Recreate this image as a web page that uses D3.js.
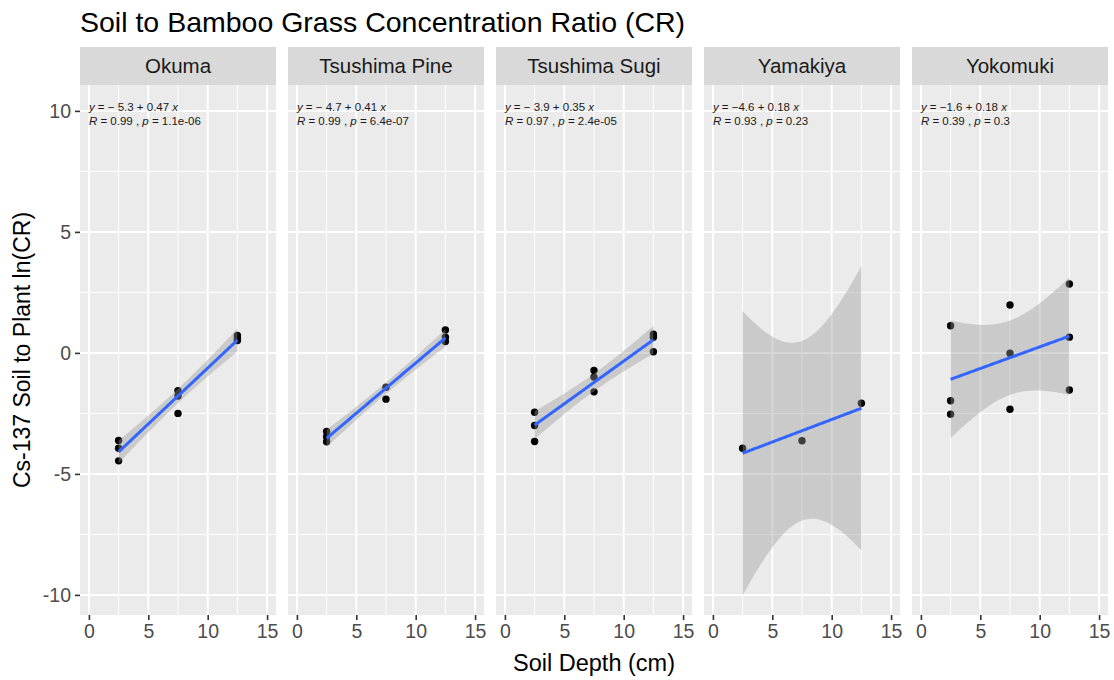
<!DOCTYPE html>
<html>
<head>
<meta charset="utf-8">
<script src="https://cdn.jsdelivr.net/npm/d3@7"></script>
<style>
  body { margin: 0; background: #fff; }
  svg { display: block; font-family: "Liberation Sans", Arial, sans-serif; }
</style>
</head>
<body>
<svg id="chart" width="1114" height="680"></svg>
<script>
// Sites (facets)
const sites = ["Okuma", "Tsushima Pine", "Tsushima Sugi", "Yamakiya", "Yokomuki"];

// Soil depth (cm) and ln(CR) per site
const okumaDepth = [2.5, 2.5, 2.5, 7.5, 7.5, 7.5, 12.5, 12.5, 12.5];
const okumaCR    = [-3.62, -3.94, -4.46, -1.56, -1.78, -2.5, 0.72, 0.61, 0.51];

const pineDepth  = [2.5, 2.5, 2.5, 7.5, 7.5, 12.5, 12.5, 12.5];
const pineCR     = [-3.25, -3.46, -3.67, -1.42, -1.91, 0.95, 0.65, 0.47];

const sugiDepth  = [2.5, 2.5, 2.5, 7.5, 7.5, 7.5, 12.5, 12.5, 12.5];
const sugiCR     = [-2.45, -3.0, -3.66, -0.73, -1.0, -1.61, 0.77, 0.65, 0.05];

const yamakiyaDepth = [2.5, 7.5, 12.5];
const yamakiyaCR    = [-3.94, -3.63, -2.08];

const yokomukiDepth = [2.5, 2.5, 2.5, 7.5, 7.5, 7.5, 12.5, 12.5, 12.5];
const yokomukiCR    = [1.12, -1.98, -2.53, 1.98, -0.01, -2.33, 2.85, 0.65, -1.53];

// Regression / correlation annotations
const eqIntercept = ["\u2212 5.3", "\u2212 4.7", "\u2212 3.9", "\u22124.6", "\u22121.6"];
const eqSlope     = ["0.47", "0.41", "0.35", "0.18", "0.18"];
const corR        = ["0.99", "0.99", "0.97", "0.93", "0.39"];
const corP        = ["1.1e-06", "6.4e-07", "2.4e-05", "0.23", "0.3"];

// Axis ticks
const xTicks = [0, 5, 10, 15];
const xMinor = [2.5, 7.5, 12.5];
const yTicks = [-10, -5, 0, 5, 10];
const yMinor = [-7.5, -2.5, 2.5, 7.5];

const seriesDepth = [okumaDepth, pineDepth, sugiDepth, yamakiyaDepth, yokomukiDepth];
const seriesCR    = [okumaCR, pineCR, sugiCR, yamakiyaCR, yokomukiCR];

// ---- statistics helpers (linear fit with 95% confidence band) ----
function lnGamma(z) {
  const g = 7, c = [0.99999999999980993, 676.5203681218851, -1259.1392167224028,
    771.32342877765313, -176.61502916214059, 12.507343278686905,
    -0.13857109526572012, 9.9843695780195716e-6, 1.5056327351493116e-7];
  if (z < 0.5) return Math.log(Math.PI / Math.sin(Math.PI * z)) - lnGamma(1 - z);
  z -= 1;
  let x = c[0];
  for (let i = 1; i < g + 2; i++) x += c[i] / (z + i);
  const t = z + g + 0.5;
  return 0.5 * Math.log(2 * Math.PI) + (z + 0.5) * Math.log(t) - t + Math.log(x);
}
function betacf(a, b, x) {
  const MAXIT = 200, EPS = 3e-14, FPMIN = 1e-300;
  let qab = a + b, qap = a + 1, qam = a - 1, c = 1, d = 1 - qab * x / qap;
  if (Math.abs(d) < FPMIN) d = FPMIN;
  d = 1 / d; let h = d;
  for (let m = 1; m <= MAXIT; m++) {
    const m2 = 2 * m;
    let aa = m * (b - m) * x / ((qam + m2) * (a + m2));
    d = 1 + aa * d; if (Math.abs(d) < FPMIN) d = FPMIN;
    c = 1 + aa / c; if (Math.abs(c) < FPMIN) c = FPMIN;
    d = 1 / d; h *= d * c;
    aa = -(a + m) * (qab + m) * x / ((a + m2) * (qap + m2));
    d = 1 + aa * d; if (Math.abs(d) < FPMIN) d = FPMIN;
    c = 1 + aa / c; if (Math.abs(c) < FPMIN) c = FPMIN;
    d = 1 / d; const del = d * c; h *= del;
    if (Math.abs(del - 1) < EPS) break;
  }
  return h;
}
function ibeta(x, a, b) {
  if (x <= 0) return 0; if (x >= 1) return 1;
  const bt = Math.exp(lnGamma(a + b) - lnGamma(a) - lnGamma(b) + a * Math.log(x) + b * Math.log(1 - x));
  if (x < (a + 1) / (a + b + 2)) return bt * betacf(a, b, x) / a;
  return 1 - bt * betacf(b, a, 1 - x) / b;
}
function tCDF(t, df) {
  const p = 0.5 * ibeta(df / (df + t * t), df / 2, 0.5);
  return t > 0 ? 1 - p : p;
}
function tQuantile(q, df) {
  let lo = 0, hi = 1000;
  for (let i = 0; i < 200; i++) {
    const mid = (lo + hi) / 2;
    if (tCDF(mid, df) < q) lo = mid; else hi = mid;
  }
  return (lo + hi) / 2;
}
function linearFit(xs, ys) {
  const n = xs.length, mx = d3.mean(xs), my = d3.mean(ys);
  let sxx = 0, sxy = 0;
  xs.forEach((x, i) => { sxx += (x - mx) ** 2; sxy += (x - mx) * (ys[i] - my); });
  const b = sxy / sxx, a = my - b * mx;
  let sse = 0;
  xs.forEach((x, i) => { sse += (ys[i] - a - b * x) ** 2; });
  const s = Math.sqrt(sse / (n - 2));
  const tq = tQuantile(0.975, n - 2);
  const [x0, x1] = d3.extent(xs);
  const pts = d3.range(80).map(k => {
    const x = x0 + (x1 - x0) * k / 79;
    const fit = a + b * x;
    const se = s * Math.sqrt(1 / n + (x - mx) ** 2 / sxx);
    return { x, fit, lo: fit - tq * se, hi: fit + tq * se };
  });
  return pts;
}

// ---- layout ----
const svg = d3.select("#chart");
const panelTop = 85, panelBottom = 615, stripTop = 47;
const panelW = 196, panelGap = 12, firstLeft = 80;

const y = d3.scaleLinear().domain([-10.83, 11.07]).range([panelBottom, panelTop]);

// Title
svg.append("text").attr("x", 80).attr("y", 32)
  .attr("font-size", 28.5).attr("fill", "#000")
  .text("Soil to Bamboo Grass Concentration Ratio (CR)");

// Axis titles
svg.append("text")
  .attr("transform", `translate(30,${(panelTop + panelBottom) / 2}) rotate(-90)`)
  .attr("text-anchor", "middle").attr("font-size", 23).attr("fill", "#000")
  .text("Cs-137 Soil to Plant ln(CR)");
svg.append("text")
  .attr("x", (firstLeft + firstLeft + 5 * panelW + 4 * panelGap) / 2).attr("y", 671)
  .attr("text-anchor", "middle").attr("font-size", 23.5).attr("fill", "#000")
  .text("Soil Depth (cm)");

// Left y axis
const yAxis = d3.axisLeft(y).tickValues(yTicks).tickSize(5).tickPadding(4)
  .tickFormat(d3.format("d"));
const gy = svg.append("g").attr("transform", `translate(${firstLeft},0)`).call(yAxis);
gy.select(".domain").remove();
gy.selectAll(".tick line").attr("stroke", "#333").attr("stroke-width", 1.6);
gy.selectAll(".tick text").attr("font-size", 19.5).attr("fill", "#4D4D4D")
  .attr("font-family", "Liberation Sans, Arial, sans-serif")
  .text(d => d < 0 ? "-" + Math.abs(d) : d);

sites.forEach((site, i) => {
  const left = firstLeft + i * (panelW + panelGap);
  const x = d3.scaleLinear().domain([-0.75, 15.75]).range([left, left + panelW]);
  const g = svg.append("g");

  // strip
  g.append("rect").attr("x", left).attr("y", stripTop).attr("width", panelW)
    .attr("height", panelTop - stripTop).attr("fill", "#D9D9D9");
  g.append("text").attr("x", left + panelW / 2).attr("y", (stripTop + panelTop) / 2)
    .attr("dy", "0.36em").attr("text-anchor", "middle")
    .attr("font-size", 20.5).attr("fill", "#1A1A1A").text(site);

  // panel background
  g.append("rect").attr("x", left).attr("y", panelTop).attr("width", panelW)
    .attr("height", panelBottom - panelTop).attr("fill", "#EBEBEB");

  // grid
  g.selectAll(".ymin").data(yMinor).join("line")
    .attr("x1", left).attr("x2", left + panelW)
    .attr("y1", d => y(d)).attr("y2", d => y(d))
    .attr("stroke", "#fff").attr("stroke-width", 1);
  g.selectAll(".xmin").data(xMinor).join("line")
    .attr("y1", panelTop).attr("y2", panelBottom)
    .attr("x1", d => x(d)).attr("x2", d => x(d))
    .attr("stroke", "#fff").attr("stroke-width", 1);
  g.selectAll(".ymaj").data(yTicks).join("line")
    .attr("x1", left).attr("x2", left + panelW)
    .attr("y1", d => y(d)).attr("y2", d => y(d))
    .attr("stroke", "#fff").attr("stroke-width", 2);
  g.selectAll(".xmaj").data(xTicks).join("line")
    .attr("y1", panelTop).attr("y2", panelBottom)
    .attr("x1", d => x(d)).attr("x2", d => x(d))
    .attr("stroke", "#fff").attr("stroke-width", 2);

  // points
  const xs = seriesDepth[i], ys = seriesCR[i];
  g.selectAll("circle").data(xs.map((d, k) => [d, ys[k]])).join("circle")
    .attr("cx", d => x(d[0])).attr("cy", d => y(d[1])).attr("r", 3.7)
    .attr("fill", "#000");

  // smooth: confidence ribbon + fitted line
  const fit = linearFit(xs, ys);
  g.append("path").datum(fit)
    .attr("d", d3.area().x(d => x(d.x)).y0(d => y(d.lo)).y1(d => y(d.hi)))
    .attr("fill", "#999999").attr("fill-opacity", 0.4);
  g.append("path").datum(fit)
    .attr("d", d3.line().x(d => x(d.x)).y(d => y(d.fit)))
    .attr("fill", "none").attr("stroke", "#3366FF").attr("stroke-width", 3);

  // equation annotations
  const t1 = g.append("text").attr("x", x(0)).attr("y", 111)
    .attr("font-size", 11.5).attr("fill", "#1A1A1A");
  t1.append("tspan").attr("font-style", "italic").text("y");
  t1.append("tspan").text(` = ${eqIntercept[i]} + ${eqSlope[i]} `);
  t1.append("tspan").attr("font-style", "italic").text("x");
  const t2 = g.append("text").attr("x", x(0)).attr("y", 125)
    .attr("font-size", 11.5).attr("fill", "#1A1A1A");
  t2.append("tspan").attr("font-style", "italic").text("R");
  t2.append("tspan").text(` = ${corR[i]} , `);
  t2.append("tspan").attr("font-style", "italic").text("p");
  t2.append("tspan").text(` = ${corP[i]}`);

  // x axis
  const xAxis = d3.axisBottom(x).tickValues(xTicks).tickSize(5).tickPadding(4)
    .tickFormat(d3.format("d"));
  const gx = svg.append("g").attr("transform", `translate(0,${panelBottom})`).call(xAxis);
  gx.select(".domain").remove();
  gx.selectAll(".tick line").attr("stroke", "#333").attr("stroke-width", 1.6);
  gx.selectAll(".tick text").attr("font-size", 19.5).attr("fill", "#4D4D4D")
    .attr("font-family", "Liberation Sans, Arial, sans-serif");
});
</script>
</body>
</html>
